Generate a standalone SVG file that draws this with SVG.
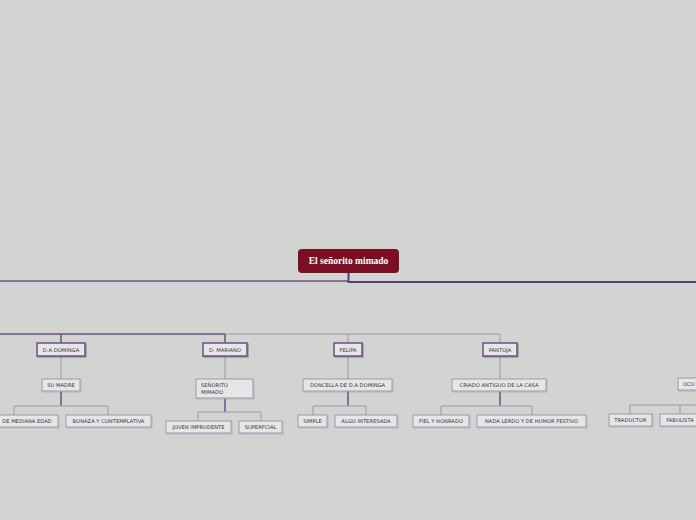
<svg xmlns="http://www.w3.org/2000/svg" width="696" height="520" viewBox="0 0 696 520">
<defs>
<style>
.bg{fill:#d2d4d1}
.n1 rect{fill:#e6e6e6;stroke:#6d4f80;stroke-width:1.5}
.n2 rect{fill:#e6e6e6;stroke:#a592b1;stroke-width:1}
.sh{fill:#9a9a9a;opacity:0.5}
text{font-family:"DejaVu Sans","Liberation Sans",sans-serif;font-size:5.2px;fill:#333;text-anchor:middle}
.root text{font-family:"Liberation Serif","DejaVu Serif",serif;font-size:9.5px;font-weight:bold;fill:#fff}
.c1{stroke:#6e4f84;stroke-width:1.5;fill:none}
.c2{stroke:#a592b1;stroke-width:1;fill:none}
.c3{stroke:#5f3d7a;stroke-width:2;fill:none}
</style>
</defs>
<rect class="bg" x="0" y="0" width="696" height="520"/>
<g id="connectors">
<path class="c3" d="M348.5 273 V282 H696"/>
<path class="c1" d="M348.5 281 H0"/>
<path class="c1" d="M0 334 H225"/>
<path class="c2" d="M225 334 H500 V343"/>
<path class="c1" d="M61 334 V343 M225 334 V343"/>
<path class="c2" d="M348 334 V343"/>
<path class="c2" d="M61 356 V379 M225 356 V379 M348 356 V379 M500 356 V379"/>
<path class="c1" d="M61 391 V406 M225 398 V412 M348 391 V406 M500 391 V406"/>
<path class="c2" d="M14 415 V406 H108 V415"/>
<path class="c2" d="M198 421 V412 H261 V421"/>
<path class="c2" d="M313 415 V406 H366 V415"/>
<path class="c2" d="M441 415 V406 H532 V415"/>
<path class="c2" d="M630 414 V405 H696 M680 405 V414"/>
</g>
<g id="root" class="root">
<rect x="298" y="249" width="101" height="24" rx="4" fill="#7a0f23"/>
<text x="348.5" y="264">El señorito mimado</text>
</g>
<g id="n-dominga" class="n1">
<rect class="sh" x="38" y="344" width="48" height="13" stroke="none"/>
<rect x="37" y="343" width="48" height="13"/>
<text x="61" y="351.8">D.A DOMINGA</text>
</g>
<g id="n-sumadre" class="n2">
<rect class="sh" x="43" y="380" width="38" height="12" stroke="none"/>
<rect x="42" y="379" width="38" height="12"/>
<text x="61" y="387.3">SU MADRE</text>
</g>
<g id="n-mediana" class="n2">
<rect class="sh" x="-3" y="416" width="62" height="12" stroke="none"/>
<rect x="-4" y="415" width="62" height="12"/>
<text x="27" y="423.3">DE MEDIANA EDAD</text>
</g>
<g id="n-bonaza" class="n2">
<rect class="sh" x="67" y="416" width="85" height="12" stroke="none"/>
<rect x="66" y="415" width="85" height="12"/>
<text x="108.5" y="423.3">BONAZA Y CONTEMPLATIVA</text>
</g>
<g id="n-mariano" class="n1">
<rect class="sh" x="204" y="344" width="44" height="13" stroke="none"/>
<rect x="203" y="343" width="44" height="13"/>
<text x="225" y="351.8">D. MARIANO</text>
</g>
<g id="n-senorito" class="n2">
<rect class="sh" x="197" y="380" width="57" height="19" stroke="none"/>
<rect x="196" y="379" width="57" height="19"/>
<text x="201" y="387.3" style="text-anchor:start">SEÑORITO</text>
<text x="201" y="393.8" style="text-anchor:start">MIMADO</text>
</g>
<g id="n-joven" class="n2">
<rect class="sh" x="167" y="422" width="65" height="12" stroke="none"/>
<rect x="166" y="421" width="65" height="12"/>
<text x="198.5" y="429.3">JOVEN IMPRUDENTE</text>
</g>
<g id="n-superfcial" class="n2">
<rect class="sh" x="240" y="422" width="43" height="12" stroke="none"/>
<rect x="239" y="421" width="43" height="12"/>
<text x="260.5" y="429.3">SUPERFCIAL</text>
</g>
<g id="n-felipa" class="n1">
<rect class="sh" x="335" y="344" width="28" height="13" stroke="none"/>
<rect x="334" y="343" width="28" height="13"/>
<text x="348" y="351.8">FELIPA</text>
</g>
<g id="n-doncella" class="n2">
<rect class="sh" x="304" y="380" width="89" height="12" stroke="none"/>
<rect x="303" y="379" width="89" height="12"/>
<text x="347.5" y="387.3">DONCELLA DE D.A DOMINGA</text>
</g>
<g id="n-simple" class="n2">
<rect class="sh" x="299" y="416" width="29" height="12" stroke="none"/>
<rect x="298" y="415" width="29" height="12"/>
<text x="312.5" y="423.3">SIMPLE</text>
</g>
<g id="n-algo" class="n2">
<rect class="sh" x="336" y="416" width="62" height="12" stroke="none"/>
<rect x="335" y="415" width="62" height="12"/>
<text x="366" y="423.3">ALGO INTERESADA</text>
</g>
<g id="n-pantoja" class="n1">
<rect class="sh" x="484" y="344" width="34" height="13" stroke="none"/>
<rect x="483" y="343" width="34" height="13"/>
<text x="500" y="351.8">PANTOJA</text>
</g>
<g id="n-criado" class="n2">
<rect class="sh" x="453" y="380" width="94" height="12" stroke="none"/>
<rect x="452" y="379" width="94" height="12"/>
<text x="499" y="387.3">CRIADO ANTIGUO DE LA CASA</text>
</g>
<g id="n-fiel" class="n2">
<rect class="sh" x="414" y="416" width="56" height="12" stroke="none"/>
<rect x="413" y="415" width="56" height="12"/>
<text x="441" y="423.3">FIEL Y HONRADO</text>
</g>
<g id="n-nada" class="n2">
<rect class="sh" x="478" y="416" width="109" height="12" stroke="none"/>
<rect x="477" y="415" width="109" height="12"/>
<text x="531.5" y="423.3">NADA LERDO Y DE HUMOR FESTIVO</text>
</g>
<g id="n-ocu" class="n2">
<rect class="sh" x="679" y="379" width="40" height="12" stroke="none"/>
<rect x="678" y="378" width="40" height="12"/>
<text x="683" y="386.3" style="text-anchor:start">OCU</text>
</g>
<g id="n-traductor" class="n2">
<rect class="sh" x="610" y="415" width="43" height="12" stroke="none"/>
<rect x="609" y="414" width="43" height="12"/>
<text x="630.5" y="422.3">TRADUCTOR</text>
</g>
<g id="n-fabulista" class="n2">
<rect class="sh" x="661" y="415" width="40" height="12" stroke="none"/>
<rect x="660" y="414" width="40" height="12"/>
<text x="680" y="422.3">FABULISTA</text>
</g>
</svg>
